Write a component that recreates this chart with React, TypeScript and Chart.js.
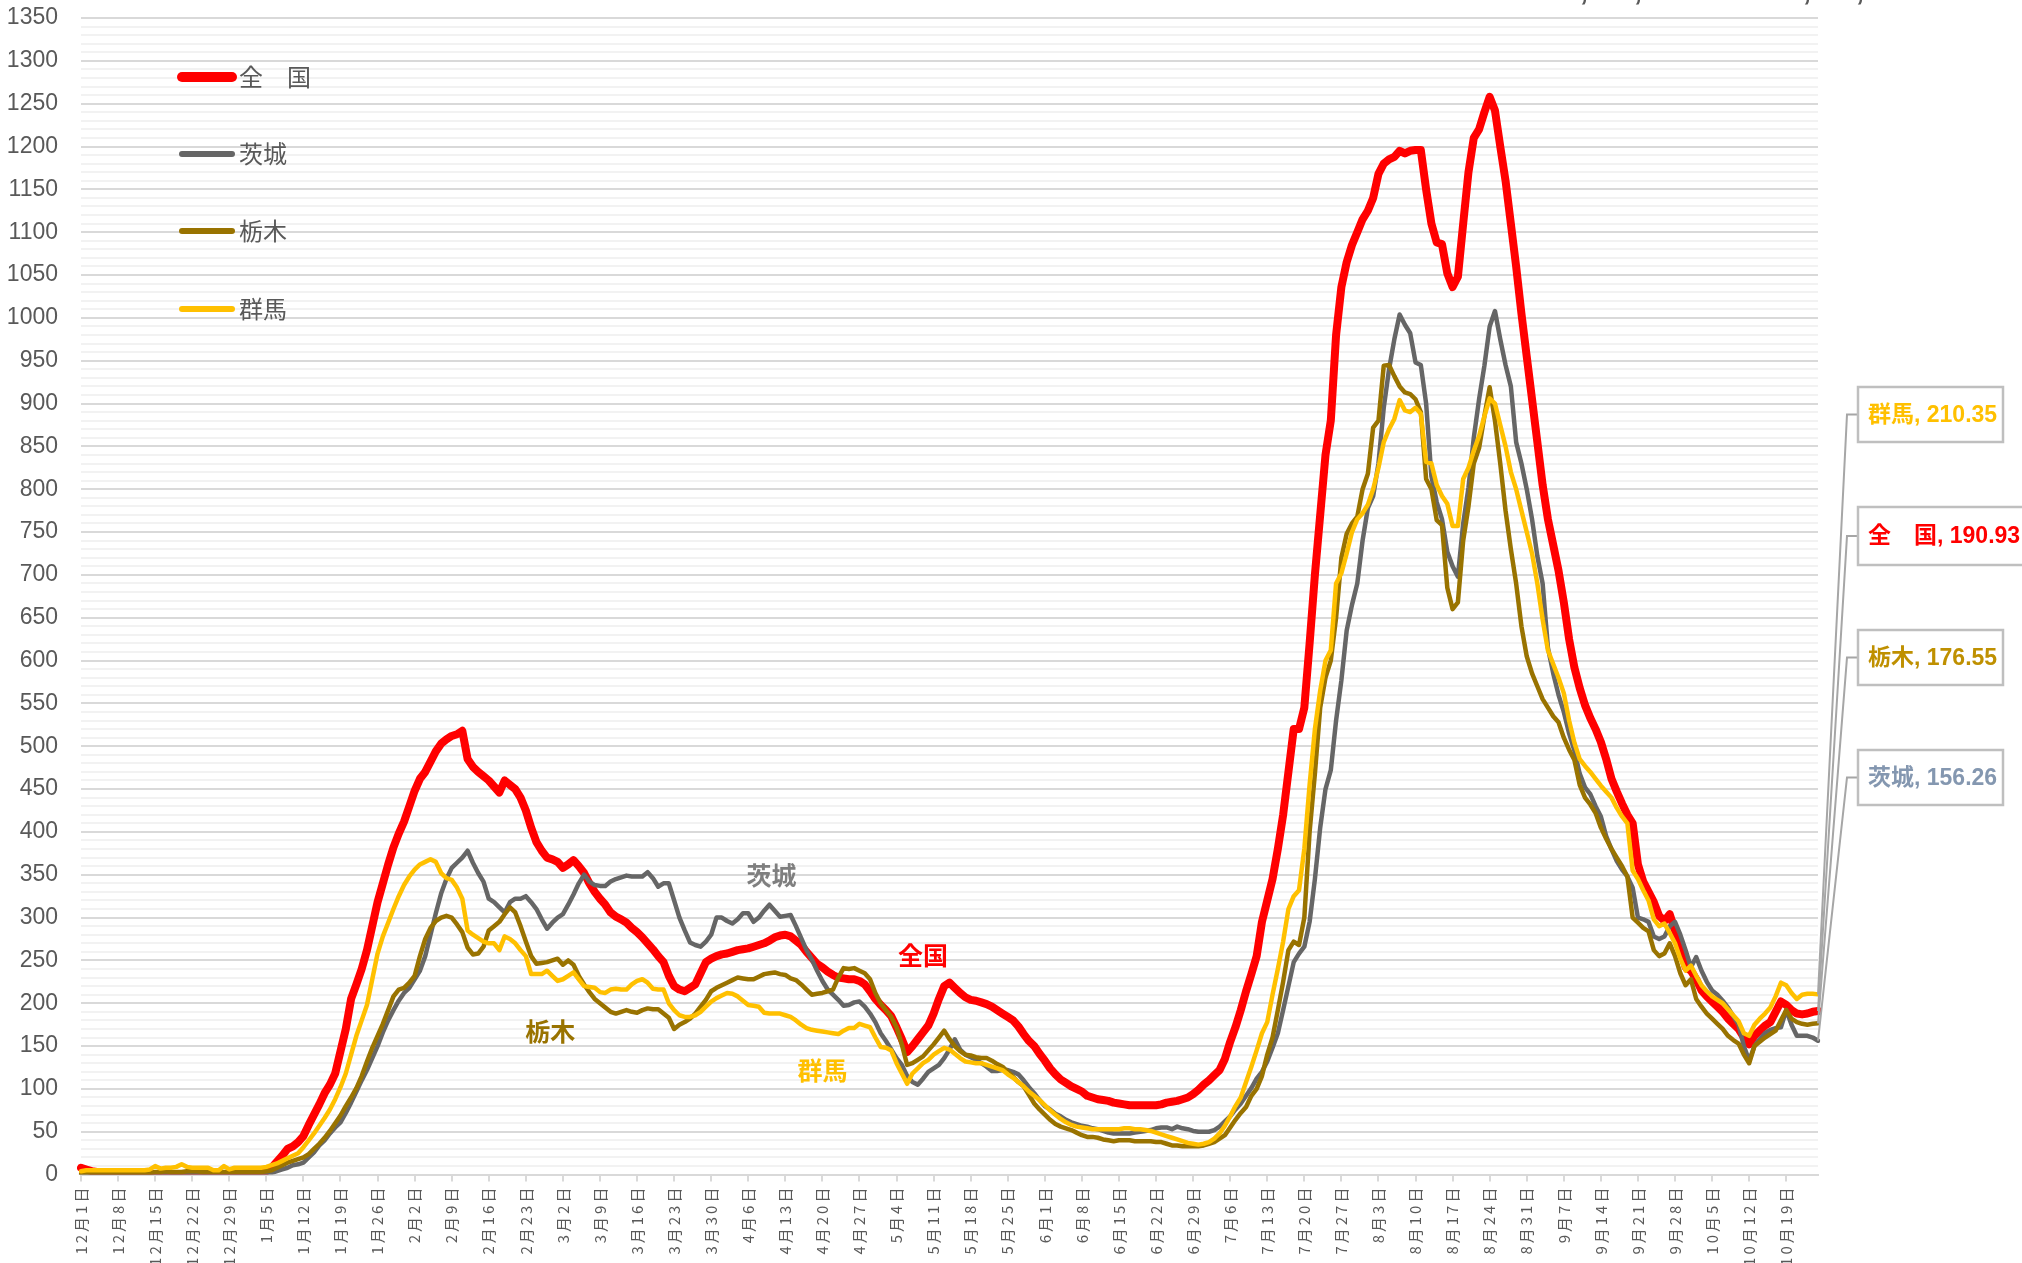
import React, { useEffect, useRef } from 'react';
import { Chart, registerables } from 'chart.js';
Chart.register(...registerables);

// ---- categories: daily dates 2020-12-01 .. 2021-10-25 ----
const MONTH_DAYS: [number, number][] = [
  [12, 31], [1, 31], [2, 28], [3, 31], [4, 30], [5, 31], [6, 30], [7, 31], [8, 31], [9, 30], [10, 25],
];
const DATES: string[] = [];
for (const [m, n] of MONTH_DAYS) for (let d = 1; d <= n; d++) DATES.push(`${m}月${d}日`);

const SERIES_NAMES = ['全　国', '茨城', '栃木', '群馬'];
const SERIES_COLORS = ['#FF0000', '#666666', '#997300', '#FFC000'];
const LABEL_COLORS = ['#FF0000', '#8497B0', '#BF9000', '#FFC000'];

const ZENKOKU = [
  8, 6, 4, 3, 2, 2, 2,
  1, 0, 0, 0, 0, 0, 0,
  0, 0, 0, 0, 0, 0, 0,
  0, 0, 0, 0, 0, 0, 0,
  0, 0, 0, 0, 0, 1, 2,
  4, 8, 15, 22, 30, 33, 38,
  45, 58, 70, 82, 95, 105, 118,
  144, 170, 205, 222, 240, 262, 290,
  318, 340, 362, 382, 398, 412, 430,
  448, 462, 470, 482, 494, 503, 508,
  512, 514, 518, 485, 476, 470, 465,
  460, 453, 446, 460, 455, 450, 440,
  425, 405, 388, 378, 370, 368, 365,
  358, 362, 367, 360, 352, 340, 330,
  322, 315, 306, 301, 298, 294, 288,
  283, 277, 270, 263, 255, 248, 232,
  220, 216, 214, 218, 222, 235, 248,
  252, 255, 257, 258, 260, 262, 263,
  264, 266, 268, 270, 273, 277, 279,
  280, 278, 273, 268, 260, 253, 246,
  242, 237, 233, 230, 229, 228, 228,
  226, 222, 214, 205, 198, 192, 185,
  172, 158, 143, 150, 158, 166, 174,
  188, 205, 220, 224, 218, 212, 207,
  204, 203, 201, 199, 196, 192, 188,
  184, 180, 173, 164, 156, 150, 141,
  133, 124, 117, 111, 107, 103, 100,
  97, 92, 90, 88, 87, 86, 84,
  83, 82, 81, 81, 81, 81, 81,
  81, 82, 84, 85, 86, 88, 90,
  94, 99, 105, 110, 116, 122, 135,
  155, 172, 192, 214, 234, 255, 295,
  320, 345, 380, 420, 470, 520, 520,
  545, 620, 700, 770, 840, 880, 980,
  1036, 1065, 1085, 1100, 1115, 1125, 1140,
  1168, 1180, 1185, 1188, 1195, 1192, 1195,
  1196, 1196, 1150, 1110, 1088, 1086, 1052,
  1036, 1048, 1110, 1170, 1210, 1220, 1240,
  1258, 1242, 1200, 1160, 1110, 1060, 1005,
  955, 905, 855, 805, 765, 735, 705,
  668, 625, 592, 568, 548, 533, 520,
  505, 485, 462, 447, 433, 420, 410,
  362, 342, 330, 318, 302, 296, 304,
  285, 265, 242, 238, 228, 215, 208,
  202, 196, 190, 182, 176, 170, 160,
  152, 162, 168, 174, 178, 190, 202,
  198, 192, 188, 187, 188, 190, 190.93,
];

const IBARAKI = [
  1, 1, 1, 1, 1, 1, 1,
  1, 1, 1, 1, 1, 1, 1,
  1, 1, 1, 1, 1, 1, 1,
  1, 1, 1, 1, 1, 1, 1,
  1, 1, 1, 1, 1, 1, 1,
  1, 2, 4, 6, 8, 11, 12,
  14, 20, 26, 34, 40, 48, 55,
  61, 72, 84, 97, 110, 122, 136,
  150, 166, 180, 192, 203, 212, 218,
  228, 238, 255, 280, 305, 328, 345,
  358, 364, 370, 378, 364, 352, 342,
  322, 318, 312, 306, 318, 322, 322,
  325, 318, 310, 298, 287, 294, 300,
  304, 315, 327, 340, 350, 342, 338,
  337, 337, 342, 345, 347, 349, 348,
  348, 348, 353, 346, 336, 340, 340,
  320, 300, 285, 271, 268, 266, 272,
  280, 300, 300, 296, 293, 298, 305,
  305, 295, 300, 308, 315, 308, 301,
  302, 303, 290, 276, 262, 251, 238,
  226, 216, 210, 204, 197, 198, 201,
  202, 196, 188, 178, 165, 156, 146,
  136, 128, 115, 108, 105, 112, 120,
  124, 128, 136, 146, 158, 146, 140,
  137, 134, 130, 126, 121, 121, 122,
  122, 120, 117, 110, 102, 95, 87,
  80, 76, 71, 68, 64, 61, 59,
  57, 56, 54, 53, 51, 49, 48,
  48, 48, 48, 49, 50, 51, 52,
  54, 55, 55, 53, 56, 54, 53,
  51, 50, 50, 50, 52, 56, 62,
  68, 76, 83, 92, 101, 112, 120,
  132, 148, 165, 192, 220, 248, 258,
  266, 295, 345, 405, 450, 472, 530,
  577, 635, 665, 690, 740, 778, 792,
  830, 895, 940, 975, 1004, 992, 982,
  948, 945, 900, 815, 785, 765, 727,
  710, 698, 760, 802, 860, 905, 944,
  990, 1008, 975, 945, 920, 855, 830,
  800, 765, 722, 690, 615, 585, 560,
  540, 515, 495, 468, 452, 444, 430,
  418, 395, 380, 366, 356, 348, 335,
  300, 298, 295, 278, 275, 278, 290,
  295, 280, 262, 242, 254, 238, 225,
  215, 210, 203, 195, 185, 175, 150,
  133, 150, 158, 165, 169, 171, 172,
  192, 175, 162, 162, 162, 160, 156.26,
];

const TOCHIGI = [
  0, 1, 1, 2, 2, 2, 2,
  2, 2, 2, 2, 2, 2, 2,
  3, 3, 4, 3, 3, 3, 4,
  4, 4, 3, 3, 3, 3, 3,
  3, 3, 3, 3, 3, 3, 3,
  4, 5, 8, 11, 14, 16, 18,
  20, 24, 30, 36, 43, 51, 60,
  69, 80, 90, 101, 115, 132, 148,
  162, 176, 192, 208, 216, 218, 224,
  232, 255, 275, 288, 296, 300, 302,
  300, 292, 283, 265, 257, 258, 266,
  285, 290, 295, 304, 312, 306, 290,
  272, 255, 246, 247, 248, 250, 252,
  245, 250, 245, 232, 222, 213, 205,
  200, 195, 190, 188, 190, 192, 190,
  189, 192, 194, 193, 193, 188, 183,
  170, 175, 178, 182, 188, 196, 204,
  214, 218, 221, 224, 227, 230, 229,
  228, 228, 231, 234, 235, 236, 234,
  233, 229, 227, 222, 216, 210, 211,
  212, 214, 216, 230, 241, 240, 241,
  238, 235, 228, 212, 200, 192, 184,
  172, 152, 128, 130, 134, 138, 145,
  152, 160, 168, 158, 150, 144, 140,
  139, 137, 136, 136, 133, 129, 126,
  120, 114, 108, 103, 93, 83, 76,
  70, 64, 59, 56, 54, 52, 49,
  46, 44, 44, 43, 41, 40, 39,
  40, 40, 40, 39, 39, 39, 39,
  38, 38, 36, 34, 34, 33, 33,
  33, 33, 34, 36, 38, 42, 46,
  55, 64, 72, 79, 92, 100, 115,
  140, 160, 192, 225, 262, 272, 268,
  300, 400, 468, 545, 580, 600, 650,
  720, 748, 760, 768, 800, 818, 872,
  880, 944, 945, 932, 920, 913, 911,
  905, 890, 812, 800, 764, 758, 685,
  660, 668, 740, 780, 830, 848, 885,
  919, 880, 830, 775, 730, 690, 640,
  605, 585, 570, 555, 545, 535, 528,
  510, 496, 484, 455, 440, 432, 422,
  405, 392, 380, 370, 360, 348, 300,
  294, 288, 284, 262, 255, 258, 270,
  255, 235, 221, 228, 205, 196, 188,
  182, 176, 170, 162, 157, 153, 140,
  130, 150, 155, 160, 164, 168, 180,
  192, 182, 178, 176, 175, 176, 176.55,
];

const GUNMA = [
  4, 5, 5, 5, 5, 5, 5,
  5, 5, 5, 5, 5, 5, 6,
  10, 7, 8, 8, 9, 12, 9,
  8, 8, 8, 8, 5, 5, 10,
  6, 8, 8, 8, 8, 8, 8,
  9, 11, 13, 16, 19, 22, 25,
  32, 40, 48, 57, 66, 76, 88,
  102, 118, 140, 162, 180, 198, 228,
  258, 278, 294, 310, 325, 338, 348,
  356, 362, 365, 368, 365, 352, 346,
  344, 335, 322, 285, 280, 276, 272,
  270, 270, 262, 278, 275, 270, 262,
  255, 234, 234, 234, 238, 232, 226,
  228, 232, 236, 228, 220, 219, 218,
  213, 212, 216, 217, 216, 216, 222,
  226, 228, 224, 217, 216, 216, 200,
  192, 186, 184, 184, 186, 190, 196,
  202, 206, 209, 212, 211, 208, 203,
  198, 197, 196, 189, 188, 188, 188,
  186, 184, 180, 175, 171, 169, 168,
  167, 166, 165, 164, 168, 171, 171,
  176, 174, 172, 160, 149, 148, 145,
  130, 118, 106, 118, 124, 130, 134,
  140, 144, 148, 146, 141, 136, 132,
  131, 130, 130, 128, 126, 124, 122,
  117, 113, 108, 103, 97, 92, 87,
  81, 75, 70, 65, 61, 58, 56,
  55, 54, 53, 53, 53, 53, 53,
  53, 54, 54, 53, 53, 52, 51,
  49, 47, 45, 43, 41, 39, 37,
  36, 35, 36, 38, 42, 48, 57,
  68, 80, 90, 108, 126, 145, 165,
  178, 210, 240, 272, 310, 325, 332,
  380, 455, 520, 565, 600, 612, 690,
  702, 725, 750, 765, 772, 782, 800,
  825, 855, 870, 882, 904, 892, 890,
  895, 888, 832, 830, 805, 792, 783,
  757, 757, 812, 825, 845, 862, 885,
  906, 900, 875, 850, 820, 800, 775,
  750, 725, 690, 648, 612, 596, 580,
  562, 530, 504, 485, 477, 470, 462,
  454, 447, 440, 428, 418, 410, 355,
  345, 332, 320, 298, 290, 293, 282,
  270, 252, 238, 244, 232, 221, 214,
  208, 204, 200, 193, 186, 179, 165,
  162, 175, 182, 188, 195, 208, 224,
  221, 212, 205, 210, 211, 211, 210.35,
];

const SERIES = [ZENKOKU, IBARAKI, TOCHIGI, GUNMA];

const Y_MIN = 0;
const Y_MAX = 1350;
const Y_STEP = 10;
const Y_LABEL_STEP = 50;

// in-chart annotations: [series index, text, category index, value]
const ANNOTATIONS: [number, string, number, number][] = [
  [1, '茨城', 130.4, 349],
  [0, '全国', 159, 256],
  [2, '栃木', 88.6, 167],
  [3, '群馬', 140, 122],
];

// callout boxes order (top to bottom)
const CALLOUT_ORDER = [3, 0, 2, 1];

const NUM_FONT = '"Liberation Sans", "Noto Sans CJK JP", sans-serif';
const CJK_FONT = '"Noto Sans CJK JP", "Noto Sans", sans-serif';

const overlayPlugin = {
  id: 'overlay',
  afterDraw(chart: any) {
    const { ctx } = chart;
    const xs = chart.scales.x;
    const ys = chart.scales.y;
    ctx.save();

    // x-axis date labels (every 7 days), rotated
    ctx.fillStyle = '#595959';
    ctx.font = `15px ${CJK_FONT}`;
    (ctx as any).letterSpacing = '3px';
    ctx.textAlign = 'right';
    ctx.textBaseline = 'middle';
    for (let i = 0; i < DATES.length; i += 7) {
      const px = xs.getPixelForValue(i);
      ctx.save();
      ctx.translate(px, ys.bottom + 10);
      ctx.rotate(-Math.PI / 2);
      ctx.fillText(DATES[i], 0, 0);
      ctx.restore();
    }
    (ctx as any).letterSpacing = '0px';

    // legend (inside plot, top-left)
    const legendY = [77, 154, 231, 309];
    SERIES_NAMES.forEach((name, k) => {
      const ly = legendY[k];
      ctx.strokeStyle = SERIES_COLORS[k];
      ctx.lineWidth = k === 0 ? 10 : 6;
      ctx.lineCap = 'round';
      ctx.beginPath();
      ctx.moveTo(182, ly);
      ctx.lineTo(232, ly);
      ctx.stroke();
      ctx.fillStyle = '#595959';
      ctx.font = `24px ${CJK_FONT}`;
      ctx.textAlign = 'left';
      ctx.textBaseline = 'middle';
      ctx.fillText(name, 239, ly);
    });

    // in-chart annotations
    ANNOTATIONS.forEach(([k, text, ci, v]) => {
      const px = xs.getPixelForValue(ci);
      const py = ys.getPixelForValue(v);
      ctx.fillStyle = k === 1 ? '#7F7F7F' : k === 2 ? '#997300' : LABEL_COLORS[k];
      ctx.font = `bold 25px ${CJK_FONT}`;
      ctx.textAlign = 'center';
      ctx.textBaseline = 'middle';
      ctx.fillText(text, px, py);
    });

    // callouts with leader lines
    const boxTop = [387, 507, 630, 750];
    const boxH = [55, 58, 55, 55];
    const boxW = [145, 180, 145, 145];
    const bx = 1858;
    CALLOUT_ORDER.forEach((k, j) => {
      const data = SERIES[k];
      const last = data[data.length - 1];
      const px = xs.getPixelForValue(data.length - 1);
      const py = ys.getPixelForValue(last);
      const cy = boxTop[j] + boxH[j] / 2;
      ctx.strokeStyle = '#A6A6A6';
      ctx.lineWidth = 2;
      ctx.lineCap = 'butt';
      ctx.beginPath();
      ctx.moveTo(px, py);
      ctx.lineTo(bx - 11, cy);
      ctx.lineTo(bx, cy);
      ctx.stroke();
      ctx.fillStyle = '#FFFFFF';
      ctx.fillRect(bx, boxTop[j], boxW[j], boxH[j]);
      ctx.strokeStyle = '#BFBFBF';
      ctx.lineWidth = 2.5;
      ctx.strokeRect(bx, boxTop[j], boxW[j], boxH[j]);
      ctx.fillStyle = LABEL_COLORS[k];
      ctx.font = `bold 23px ${NUM_FONT}`;
      ctx.textAlign = 'left';
      ctx.textBaseline = 'middle';
      ctx.fillText(`${SERIES_NAMES[k]}, ${last.toFixed(2)}`, bx + 10, cy + 1);
    });

    // bottom of the cropped title text at the very top
    ctx.fillStyle = '#595959';
    ctx.font = `bold 30px ${NUM_FONT}`;
    ctx.textAlign = 'center';
    ctx.textBaseline = 'alphabetic';
    [1584, 1638, 1807, 1860].forEach((cx) => ctx.fillText(',', cx, 0));

    ctx.restore();
  },
};

export default function App() {
  const ref = useRef<HTMLCanvasElement | null>(null);
  useEffect(() => {
    if (!ref.current) return;
    Chart.defaults.font.family = NUM_FONT;
    const order = [3, 2, 1, 0];
    const chart = new Chart(ref.current, {
      type: 'line',
      data: {
        labels: DATES,
        datasets: SERIES.map((d, k) => ({
          label: SERIES_NAMES[k],
          data: d,
          borderColor: SERIES_COLORS[k],
          backgroundColor: SERIES_COLORS[k],
          borderWidth: k === 0 ? 8 : 4.5,
          pointRadius: 0,
          tension: 0,
          fill: false,
          borderJoinStyle: 'round',
          borderCapStyle: 'round',
          order: order[k],
        })),
      },
      options: {
        responsive: false,
        animation: false,
        events: [],
        layout: { padding: { top: 18, right: 204, left: 0, bottom: 0 } },
        plugins: { legend: { display: false }, tooltip: { enabled: false } },
        scales: {
          x: {
            type: 'category',
            offset: false,
            ticks: { display: false, autoSkip: false },
            grid: {
              drawOnChartArea: false,
              drawTicks: true,
              tickLength: 7,
              lineWidth: 2,
              color: (c: any) => (c.index % 7 === 0 ? '#D9D9D9' : 'rgba(0,0,0,0)'),
            },
            border: { display: true, color: '#D9D9D9', width: 2 },
            afterFit: (s: any) => { s.height = 88.4; s.paddingLeft = 0; s.paddingRight = 0; },
          },
          y: {
            min: Y_MIN,
            max: Y_MAX,
            ticks: {
              stepSize: Y_STEP,
              autoSkip: false,
              padding: 23,
              color: '#595959',
              font: { size: 23, family: NUM_FONT },
              callback: (v: any) => (Number(v) % Y_LABEL_STEP === 0 ? String(v) : ''),
            },
            grid: {
              drawTicks: false,
              lineWidth: 2,
              color: (c: any) => (c.tick && c.tick.value % Y_LABEL_STEP === 0 ? '#D9D9D9' : '#F2F2F2'),
            },
            border: { display: false },
            afterFit: (s: any) => { s.width = 81; s.paddingTop = 0; s.paddingBottom = 0; },
          },
        },
      },
      plugins: [overlayPlugin],
    });
    return () => chart.destroy();
  }, []);
  return (
    <div style={{ position: 'fixed', left: 0, top: 0, width: 2022, height: 1263, background: '#fff' }}>
      <canvas ref={ref} width={2022} height={1263} style={{ display: 'block', width: 2022, height: 1263 }} />
    </div>
  );
}
